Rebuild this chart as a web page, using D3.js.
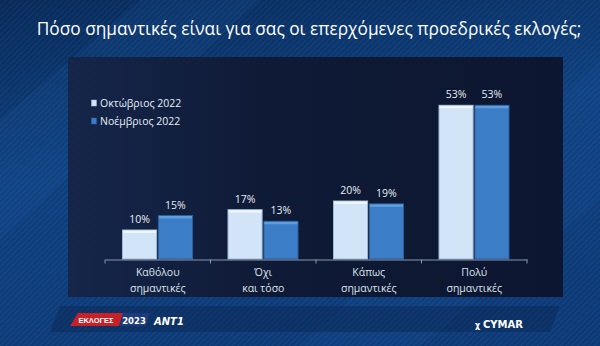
<!DOCTYPE html>
<html><head><meta charset="utf-8">
<script src="https://cdn.jsdelivr.net/npm/d3@7"></script>
<style>html,body{margin:0;padding:0;background:#0b2f63;}svg{display:block}</style>
</head><body>
<script>
const title = "Πόσο σημαντικές είναι για σας οι επερχόμενες προεδρικές εκλογές;";
const categories = [["Καθόλου","σημαντικές"],["Όχι","και τόσο"],["Κάπως","σημαντικές"],["Πολύ","σημαντικές"]];
const seriesNames = ["Οκτώβριος 2022","Νοέμβριος 2022"];
const october = [10,17,20,53];
const november = [15,13,19,53];
const colors = ["#d2e5f8","#3b7dc6"];
const edgeColors = ["#eef6ff","#5e9edd"];

const W=600,H=346;
const svg=d3.select("body").append("svg").attr("width",W).attr("height",H);
const defs=svg.append("defs");
const bg=defs.append("linearGradient").attr("id","bg").attr("x1",0).attr("y1",0).attr("x2",0.3).attr("y2",1);
bg.append("stop").attr("offset",0).attr("stop-color","#072a5a");
bg.append("stop").attr("offset",0.5).attr("stop-color","#0d3f7e");
bg.append("stop").attr("offset",1).attr("stop-color","#0c3a78");
const pat=defs.append("pattern").attr("id","stripes").attr("width",4).attr("height",4).attr("patternUnits","userSpaceOnUse").attr("patternTransform","rotate(45)");
pat.append("rect").attr("width",1.2).attr("height",4).attr("fill","#ffffff").attr("opacity",0.05);
const pg=defs.append("linearGradient").attr("id","panel").attr("x1",0).attr("y1",0).attr("x2",1).attr("y2",0);
pg.append("stop").attr("offset",0).attr("stop-color","#15264a");
pg.append("stop").attr("offset",0.4).attr("stop-color","#0f1a36");
pg.append("stop").attr("offset",1).attr("stop-color","#0c1630");

svg.append("rect").attr("width",W).attr("height",H).attr("fill","url(#bg)");
svg.append("path").attr("d","M0,120 L140,0 L260,0 L0,240 Z").attr("fill","#1b5aa0").attr("opacity",0.18);
svg.append("path").attr("d","M600,60 L600,200 L420,346 L300,346 Z").attr("fill","#1b5aa0").attr("opacity",0.15);
svg.append("rect").attr("width",W).attr("height",H).attr("fill","url(#stripes)");

svg.append("text").attr("x",309).attr("y",35).attr("text-anchor","middle")
  .attr("font-family","Open Sans, sans-serif").attr("font-size",17.3).attr("fill","#ffffff").text(title);

svg.append("rect").attr("x",68).attr("y",57).attr("width",495).attr("height",240).attr("fill","url(#panel)");

svg.append("path").attr("d","M60,306 L560,306 L550,332 L50,332 Z").attr("fill","#0a2550").attr("opacity",0.45);

const x=d3.scaleBand().domain(d3.range(categories.length)).range([105,527]).paddingInner(0).paddingOuter(0);
const xs=d3.scaleBand().domain([0,1]).range([17.5,87.5]).paddingInner(0.05);
const y=d3.scaleLinear().domain([0,60]).range([259,85]);

const data=[october,november];
const g=svg.append("g");
data.forEach((vals,si)=>{
  vals.forEach((v,ci)=>{
    const bx=x(ci)+xs(si), bw=xs.bandwidth(), by=y(v), bh=y(0)-y(v);
    g.append("rect").attr("x",bx).attr("y",by).attr("width",bw).attr("height",bh)
      .attr("fill",colors[si]).attr("stroke",si?"#2d5f99":"#9fb8d2").attr("stroke-width",1);
    g.append("rect").attr("x",bx+0.5).attr("y",by+0.5).attr("width",bw-1).attr("height",2.5).attr("fill",edgeColors[si]);
    g.append("text").attr("x",bx+bw/2).attr("y",by-7).attr("text-anchor","middle")
      .attr("font-family","Open Sans, sans-serif").attr("font-size",10.5).attr("fill","#e6edf5").text(v+"%");
  });
});

const axis=d3.axisBottom(x).tickSize(0).tickFormat("");
const ag=svg.append("g").attr("transform","translate(0,259.5)").call(axis);
ag.select(".domain").attr("stroke","#8796ad").attr("stroke-width",1.2);
const tickPos=d3.range(categories.length+1).map(i=>105+i*x.step());
ag.selectAll(".tk").data(tickPos).enter().append("line").attr("x1",d=>d).attr("x2",d=>d).attr("y1",0).attr("y2",4).attr("stroke","#8796ad");
categories.forEach((c,i)=>{
  const t=svg.append("text").attr("x",x(i)+x.bandwidth()/2).attr("y",276).attr("text-anchor","middle")
    .attr("font-family","Open Sans, sans-serif").attr("font-size",10.5).attr("fill","#dde3ea");
  t.append("tspan").attr("x",x(i)+x.bandwidth()/2).attr("dy",0).text(c[0]);
  t.append("tspan").attr("x",x(i)+x.bandwidth()/2).attr("dy",16).text(c[1]);
});

seriesNames.forEach((n,i)=>{
  svg.append("rect").attr("x",91.5).attr("y",100+i*18).attr("width",5).attr("height",6).attr("fill",colors[i]).attr("stroke",i?"#2d5f99":"#9fb8d2").attr("stroke-width",0.5);
  svg.append("text").attr("x",100).attr("y",107+i*18).attr("font-family","Open Sans, sans-serif").attr("font-size",10.5).attr("fill","#e6edf5").text(n);
});

const f=svg.append("g");
f.append("path").attr("d","M78,313 L123,313 L119,326 L70,326 Z").attr("fill","#c62128");
f.append("text").attr("x",96).attr("y",323).attr("text-anchor","middle").attr("font-family","Liberation Sans Narrow, Arial Narrow, sans-serif").attr("font-size",7.5).attr("font-weight","bold").attr("fill","#fff").text("ΕΚΛΟΓΕΣ");
f.append("path").attr("d","M123,313 L150,313 L146,326 L119,326 Z").attr("fill","#1d3a7a");
f.append("text").attr("x",134).attr("y",324).attr("text-anchor","middle").attr("font-family","DejaVu Sans, sans-serif").attr("font-size",8.5).attr("font-weight","bold").attr("fill","#fff").text("2023");
f.append("text").attr("x",154).attr("y",325).attr("font-family","DejaVu Sans, sans-serif").attr("font-size",10).attr("font-weight","bold").attr("font-style","italic").attr("fill","#fff").text("ANT1");
f.append("text").attr("x",475).attr("y",328).attr("font-family","DejaVu Sans, sans-serif").attr("font-size",8).attr("font-weight","bold").attr("fill","#fff").text("χ");
f.append("text").attr("x",483).attr("y",328).attr("font-family","DejaVu Sans, sans-serif").attr("font-size",10).attr("font-weight","bold").attr("fill","#fff").text("CYMAR");
</script>
</body></html>
